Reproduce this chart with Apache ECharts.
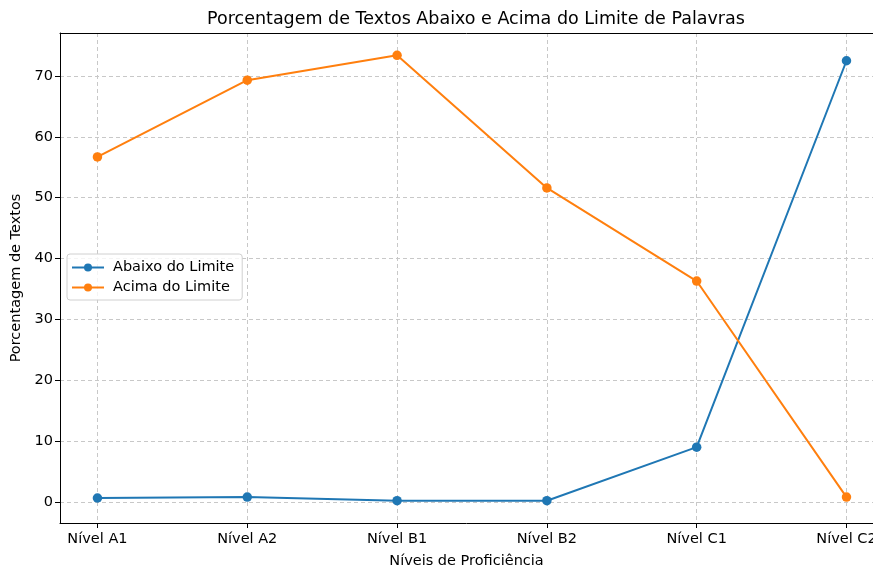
<!DOCTYPE html>
<html>
<head>
<meta charset="utf-8">
<script src="https://cdn.jsdelivr.net/npm/echarts@6/dist/echarts.min.js"></script>
<style>html,body{margin:0;padding:0;background:#fff;}#c{width:873px;height:569px;}</style>
</head>
<body>
<div id="c"></div>
<script>
const categories = ['Nível A1', 'Nível A2', 'Nível B1', 'Nível B2', 'Nível C1', 'Nível C2'];
const abaixo = [0.65, 0.8, 0.2, 0.2, 9.0, 72.5];
const acima = [56.7, 69.3, 73.4, 51.6, 36.3, 0.8];
const yTicks = [0, 10, 20, 30, 40, 50, 60, 70];
const xTicks = categories.map((_, i) => i);

const font = 'DejaVu Sans';
const chart = echarts.init(document.getElementById('c'), null, {renderer: 'canvas'});
const toPts = arr => arr.map((v, i) => [i, v]);
const fs = 14.5;

chart.setOption({
  animation: false,
  backgroundColor: '#fff',
  title: {
    text: 'Porcentagem de Textos Abaixo e Acima do Limite de Palavras',
    left: 471, top: 5, textAlign: 'center',
    textStyle: {fontFamily: font, fontSize: 17.5, fontWeight: 'normal', color: '#000'}
  },
  legend: {
    orient: 'vertical', left: 67, top: 254,
    padding: [6, 8, 5, 4], itemGap: 5,
    itemWidth: 32, itemHeight: 10,
    backgroundColor: 'rgba(255,255,255,0.8)', borderColor: '#d0d0d0', borderWidth: 1, borderRadius: 3,
    textStyle: {fontFamily: font, fontSize: fs, color: '#000', padding: [0, 0, 0, 4]},
    data: ['Abaixo do Limite', 'Acima do Limite']
  },
  grid: {left: 60, top: 33, right: 0, bottom: 46, show: false, containLabel: false, outerBoundsMode: 'none'},
  xAxis: [{
    type: 'value', min: -0.25, max: 5.177,
    name: 'Níveis de Proficiência', nameLocation: 'middle', nameGap: 31,
    nameTextStyle: {fontFamily: font, fontSize: fs, color: '#000'},
    axisLine: {show: true, onZero: false, lineStyle: {color: '#000', width: 1}},
    axisTick: {show: true, length: 5, customValues: xTicks, lineStyle: {color: '#000'}},
    axisLabel: {customValues: xTicks, formatter: v => categories[Math.round(v)] || '', fontFamily: font, fontSize: fs, color: '#000', margin: 9},
    splitLine: {show: true, lineStyle: {color: '#c8c8c8', type: [4, 3], width: 1}}
  }, {
    type: 'value', position: 'top', min: -0.25, max: 5.177,
    axisLine: {show: true, onZero: false, lineStyle: {color: '#000', width: 1}},
    axisTick: {show: false}, axisLabel: {show: false}, splitLine: {show: false}
  }],
  yAxis: {
    type: 'value', min: -3.46, max: 77.06,
    name: 'Porcentagem de Textos', nameLocation: 'middle', nameGap: 36, nameRotate: 90,
    nameTextStyle: {fontFamily: font, fontSize: fs, color: '#000'},
    axisLine: {show: true, onZero: false, lineStyle: {color: '#000', width: 1}},
    axisTick: {show: true, length: 5, customValues: yTicks, lineStyle: {color: '#000'}},
    axisLabel: {customValues: yTicks, fontFamily: font, fontSize: fs, color: '#000', margin: 7},
    splitLine: {show: true, lineStyle: {color: '#c8c8c8', type: [4, 3], width: 1}}
  },
  series: [
    {name: 'Abaixo do Limite', type: 'line', data: toPts(abaixo), symbol: 'circle', symbolSize: 9.5,
     itemStyle: {color: '#1f77b4'}, lineStyle: {color: '#1f77b4', width: 2}},
    {name: 'Acima do Limite', type: 'line', data: toPts(acima), symbol: 'circle', symbolSize: 9.5,
     itemStyle: {color: '#ff7f0e'}, lineStyle: {color: '#ff7f0e', width: 2}}
  ]
});
</script>
</body>
</html>
